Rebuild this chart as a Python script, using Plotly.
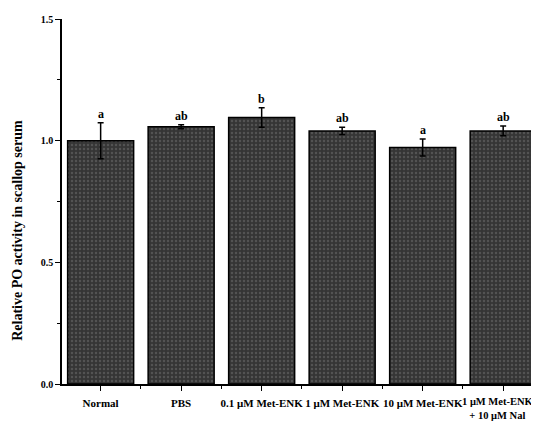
import plotly.graph_objects as go

categories = ["Normal", "PBS", "0.1 μM Met-ENK", "1 μM Met-ENK", "10 μM Met-ENK", "1 μM Met-ENK<br>+ 10 μM Nal"]
values = [1.00, 1.057, 1.095, 1.04, 0.972, 1.04]
errors = [0.074, 0.008, 0.04, 0.015, 0.035, 0.02]
letters = ["a", "ab", "b", "ab", "a", "ab"]
y_ticks = [0.0, 0.5, 1.0, 1.5]
y_ticklabels = ["0.0", "0.5", "1.0", "1.5"]

xs = list(range(len(categories)))
font_fam = "Liberation Serif"

fig = go.Figure()
fig.add_trace(go.Bar(
    x=xs, y=values, width=0.82,
    marker=dict(color="#383838", line=dict(color="black", width=1.5),
                pattern=dict(shape=".", fgcolor="#707070", bgcolor="#353535", size=4, solidity=0.3)),
    error_y=dict(type="data", array=errors, visible=True, color="black", thickness=1.5, width=3),
    showlegend=False,
))

for x, v, e, t in zip(xs, values, errors, letters):
    fig.add_annotation(x=x, y=v + e, text=t, showarrow=False, yanchor="bottom", yshift=0,
                       font=dict(family=font_fam, size=12, color="black", weight="bold"))

# the last category label sits against the right edge; keep it fully inside the page
tick_font = dict(family=font_fam, size=11, color="black", weight="bold")
fig.add_annotation(xref="paper", x=1.0, y=0, yref="y", text=categories[-1], showarrow=False, xanchor="right",
                   yanchor="top", yshift=-10, xshift=-3,
                   font=dict(family=font_fam, size=10.5, color="black", weight="bold"), align="center")

fig.add_annotation(xref="paper", yref="paper", x=-0.092, y=0.42, text="Relative PO activity in scallop serum",
                   textangle=-90, showarrow=False, xanchor="center", yanchor="middle",
                   font=dict(family=font_fam, size=14, color="black", weight="bold"))

fig.update_layout(
    width=531, height=415,
    margin=dict(l=54, r=0, t=11, b=39),
    plot_bgcolor="white", paper_bgcolor="white",
    bargap=0.18,
    xaxis=dict(range=[-0.48, 5.445], tickvals=xs, ticktext=categories[:-1] + [""], showline=True, linecolor="black",
               linewidth=1.5, ticks="outside", ticklen=5, tickwidth=1.2, tickcolor="black", showgrid=False,
               zeroline=False, tickangle=0, ticklabelstandoff=3,
               tickfont=tick_font,
               minor=dict(tickvals=[0.5, 1.5, 2.5, 3.5, 4.5], ticks="outside", ticklen=3, tickcolor="black", showgrid=False)),
    yaxis=dict(range=[0, 1.5], tickvals=y_ticks, ticktext=y_ticklabels, showline=True, linecolor="black",
               linewidth=1.5, ticks="outside", ticklen=5, tickwidth=1.2, tickcolor="black", showgrid=False,
               zeroline=False,
               tickfont=dict(family=font_fam, size=10, color="black", weight="bold"),
               minor=dict(tickvals=[0.25, 0.75, 1.25], ticks="outside", ticklen=3, tickcolor="black", showgrid=False)),
)

fig.write_html("out.html")
